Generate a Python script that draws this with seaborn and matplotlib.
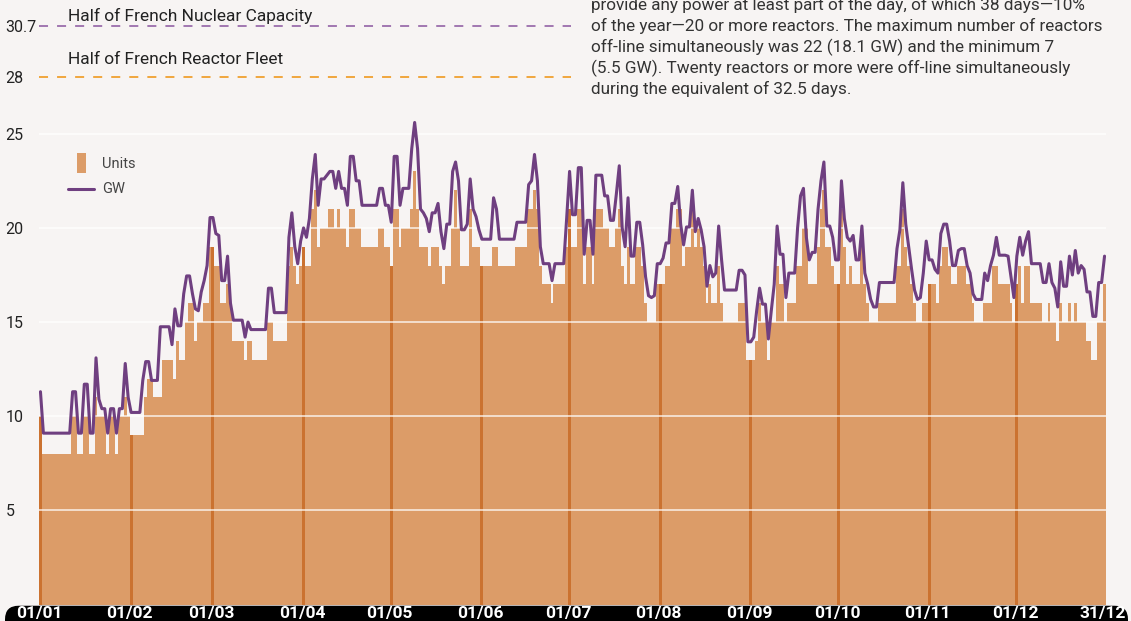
import numpy as np
import pandas as pd
import matplotlib
matplotlib.use("Agg")
import matplotlib.pyplot as plt
import seaborn as sns
from matplotlib.patches import FancyBboxPatch, Rectangle
from matplotlib.lines import Line2D

# ---------------- data ----------------
units_jan = [10, 8, 8, 8, 8, 8, 8, 8, 8, 8, 8, 10, 10, 8, 8, 10, 10, 8, 8, 11, 10, 10, 10, 8, 10, 10, 8, 10, 10, 11, 10]
units_feb = [9, 9, 9, 9, 9, 11, 12, 12, 11, 11, 11, 13, 13, 13, 13, 12, 14, 13, 13, 15, 16, 16, 14, 15, 15, 16, 16, 19]
units_mar = [19, 18, 18, 16, 16, 17, 16, 14, 14, 14, 14, 13, 14, 14, 13, 13, 13, 13, 13, 15, 15, 14, 14, 14, 14, 14, 18, 19, 18, 17, 18]
units_apr = [19, 18, 18, 21, 22, 19, 20, 20, 20, 21, 21, 20, 21, 20, 20, 19, 21, 21, 20, 20, 19, 19, 19, 19, 19, 19, 20, 20, 19, 19]
units_may = [18, 21, 21, 19, 20, 20, 20, 21, 23, 21, 19, 19, 19, 18, 19, 19, 19, 18, 17, 18, 18, 20, 22, 20, 18, 18, 18, 21, 19, 19, 19]
units_jun = [18, 18, 18, 18, 19, 19, 18, 18, 18, 18, 18, 18, 19, 19, 19, 19, 21, 21, 22, 21, 18, 17, 17, 17, 16, 17, 17, 17, 17, 19]
units_jul = [21, 19, 19, 21, 21, 17, 19, 19, 17, 21, 21, 21, 20, 20, 19, 19, 20, 21, 18, 17, 19, 17, 17, 19, 19, 18, 16, 15, 15, 15, 17]
units_aug = [17, 17, 18, 18, 20, 20, 21, 21, 18, 19, 19, 21, 19, 20, 19, 18, 16, 17, 16, 16, 18, 16, 15, 15, 15, 15, 15, 16, 16, 16, 13]
units_sep = [13, 13, 14, 16, 15, 15, 13, 15, 15, 18, 17, 17, 15, 16, 16, 16, 18, 18, 20, 20, 17, 17, 17, 19, 21, 22, 19, 19, 18, 17]
units_oct = [17, 21, 19, 17, 18, 17, 17, 17, 19, 17, 16, 15, 15, 15, 16, 16, 16, 16, 16, 16, 18, 18, 21, 19, 18, 17, 16, 15, 15, 16, 16]
units_nov = [17, 17, 17, 16, 18, 19, 19, 18, 17, 17, 18, 18, 18, 17, 17, 16, 15, 15, 15, 16, 16, 16, 18, 18, 17, 17, 17, 17, 16, 15]
units_dec = [17, 18, 16, 18, 18, 16, 16, 16, 16, 15, 15, 16, 15, 15, 14, 16, 15, 15, 16, 15, 16, 15, 15, 15, 14, 14, 13, 13, 15, 15, 17]

gw_jan = [11.3, 9.1, 9.1, 9.1, 9.1, 9.1, 9.1, 9.1, 9.1, 9.1, 9.1, 11.3, 11.3, 9.1, 9.1, 11.7, 11.7, 9.1, 9.1, 13.1, 10.9,
          10.4, 10.4, 9.1, 10.4, 10.4, 9.1, 10.4, 10.4, 12.8, 11.0]
gw_feb = [10.2, 10.2, 10.2, 10.2, 11.9, 12.9, 12.9, 11.9, 11.9, 11.9, 14.75, 14.75, 14.75, 14.75, 13.8, 15.7, 14.8, 14.8,
          16.5, 17.45, 17.45, 16.5, 15.7, 15.6, 16.6, 17.2, 18.0, 20.55]
gw_mar = [20.55, 19.7, 19.6, 17.2, 17.2, 18.5, 16.0, 15.1, 15.1, 15.1, 15.1, 14.2, 15.0, 14.6, 14.6, 14.6, 14.6, 14.6, 14.6,
          16.8, 16.8, 15.5, 15.5, 15.5, 15.5, 15.5, 19.5, 20.8, 19.0, 18.1, 19.3]
gw_apr = [20.0, 19.5, 20.5, 22.6, 23.9, 21.2, 22.6, 22.6, 22.8, 23.0, 23.0, 22.1, 23.0, 22.1, 22.1, 21.2, 23.8, 23.8, 22.5,
          22.5, 21.2, 21.2, 21.2, 21.2, 21.2, 21.2, 22.1, 22.1, 21.2, 21.2]
gw_may = [20.3, 23.8, 23.8, 21.2, 22.1, 22.1, 22.1, 24.2, 25.6, 24.2, 21.0, 20.8, 20.5, 19.8, 20.8, 20.8, 21.3, 19.8, 18.9,
          20.2, 20.2, 23.0, 23.5, 22.5, 19.9, 19.9, 20.2, 22.6, 21.0, 20.6, 19.9]
gw_jun = [19.4, 19.4, 19.4, 19.4, 21.6, 21.0, 19.4, 19.4, 19.4, 19.4, 19.4, 19.4, 20.3, 20.3, 20.3, 20.3, 22.3, 22.5, 23.9,
          22.5, 19.0, 18.1, 18.1, 18.1, 17.2, 18.1, 18.1, 18.1, 18.1, 20.5]
gw_jul = [23.0, 20.7, 20.7, 23.2, 23.2, 18.6, 20.4, 20.4, 18.6, 22.8, 22.8, 22.8, 21.7, 21.7, 20.4, 20.4, 21.8, 23.3, 20.0,
          19.0, 21.6, 18.5, 18.5, 20.3, 20.3, 19.1, 17.4, 16.4, 16.3, 16.4, 18.1]
gw_aug = [18.1, 18.4, 19.2, 19.2, 21.3, 21.3, 22.2, 20.2, 19.1, 20.05, 20.05, 22.0, 19.8, 20.5, 19.9, 19.0, 16.9, 18.0, 17.4,
          17.6, 20.1, 18.3, 16.7, 16.7, 16.7, 16.7, 16.7, 17.75, 17.75, 17.5, 13.95]
gw_sep = [13.95, 14.2, 15.6, 16.8, 15.95, 15.95, 14.1, 15.6, 17.0, 20.1, 18.6, 18.6, 16.3, 17.6, 17.6, 17.6, 20.0, 21.7,
          22.1, 19.5, 18.3, 18.7, 18.7, 21.0, 22.5, 23.5, 20.1, 20.1, 19.5, 18.3]
gw_oct = [18.3, 22.5, 20.5, 19.5, 19.3, 19.6, 18.3, 18.3, 20.1, 17.6, 17.0, 16.2, 15.8, 15.8, 17.1, 17.1, 17.1, 17.1, 17.1,
          17.1, 18.9, 19.9, 22.4, 20.2, 19.0, 17.8, 16.7, 16.2, 16.3, 17.6, 19.3]
gw_nov = [18.3, 18.3, 17.8, 17.6, 19.7, 20.2, 20.2, 19.3, 18.0, 18.0, 18.8, 18.9, 18.9, 18.0, 17.6, 16.5, 16.2, 16.2, 16.2,
          17.6, 17.2, 18.0, 18.55, 19.5, 18.55, 18.55, 18.55, 18.5, 17.4, 16.3]
gw_dec = [18.5, 19.5, 18.55, 19.3, 19.8, 18.1, 18.1, 18.1, 18.1, 17.1, 17.1, 18.1, 17.1, 16.8, 15.8, 18.2, 16.9, 16.9, 18.5,
          17.5, 18.8, 17.6, 18.0, 17.8, 16.6, 16.6, 15.3, 15.3, 17.1, 17.1, 18.5]

month_labels = ["01/01", "01/02", "01/03", "01/04", "01/05", "01/06", "01/07",
                "01/08", "01/09", "01/10", "01/11", "01/12", "31/12"]
ytick_values = [5, 10, 15, 20, 25, 28, 30.7]
ytick_labels = ["5", "10", "15", "20", "25", "28", "30.7"]
half_fleet = 28
half_capacity = 30.7
ref_labels = ["Half of French Reactor Fleet", "Half of French Nuclear Capacity"]
note_lines = [
    "provide any power at least part of the day, of which 38 days\u201410%",
    "of the year\u201420 or more reactors. The maximum number of reactors",
    "off-line simultaneously was 22 (18.1 GW) and the minimum 7",
    "(5.5 GW). Twenty reactors or more were off-line simultaneously",
    "during the equivalent of 32.5 days.",
]

units_months = [units_jan, units_feb, units_mar, units_apr, units_may, units_jun,
                units_jul, units_aug, units_sep, units_oct, units_nov, units_dec]
gw_months = [gw_jan, gw_feb, gw_mar, gw_apr, gw_may, gw_jun,
             gw_jul, gw_aug, gw_sep, gw_oct, gw_nov, gw_dec]

units = np.concatenate(units_months)
gw = np.concatenate(gw_months)
month_len = [len(m) for m in units_months]
month_start = np.concatenate([[0], np.cumsum(month_len)[:-1]])
n = len(units)
day = np.arange(n)
kind = np.where(np.isin(day, month_start), "first", "other")
df = pd.DataFrame({"x": day + 0.5, "units": units, "gw": gw, "kind": kind})

# ---------------- style ----------------
BG = "#f7f4f3"
BAR = "#dc9c68"
BAR_DARK = "#cb7230"
PURPLE = "#6f3f80"
sns.set_style("white")
plt.rcParams["font.family"] = ["Roboto", "DejaVu Sans"]

W, H = 1131, 621
fig = plt.figure(figsize=(W / 100, H / 100), dpi=100, facecolor=BG)
ax_left, ax_right, ax_bottom, ax_top = 39, 1106, 604.5, 0
ax = fig.add_axes([ax_left / W, (H - ax_bottom) / H, (ax_right - ax_left) / W, (ax_bottom - ax_top) / H])
ax.set_facecolor(BG)

sns.barplot(data=df, x="x", y="units", hue="kind", palette={"first": BAR_DARK, "other": BAR},
            native_scale=True, width=1.0, dodge=False, legend=False, ax=ax,
            linewidth=0, saturation=1)
for p in ax.patches:
    p.set_antialiased(False)
    p.set_edgecolor("none")

for v in [5, 10, 15, 20, 25]:
    ax.axhline(v, color="white", lw=1.1, alpha=0.85, zorder=2.5)

sns.lineplot(data=df, x="x", y="gw", color=PURPLE, lw=2.2, ax=ax, zorder=4)

# reference lines
ax.plot([0, 182], [half_capacity, half_capacity], color="#9b6dab", lw=1.3, ls=(0, (5, 5)), zorder=3)
ax.plot([0, 182], [half_fleet, half_fleet], color="#f0a030", lw=1.3, ls=(0, (5, 5)), zorder=3)
fig.text(68 / W, 1 - 16 / H, ref_labels[1], fontsize=12.5, color="#222222", va="center", ha="left")
fig.text(68 / W, 1 - 60 / H, ref_labels[0], fontsize=12.5, color="#222222", va="center", ha="left")

ax.set_xlim(0, n)
ax.set_ylim(0, ax_bottom / 18.83)
ax.set_xlabel("")
ax.set_ylabel("")
for s in ax.spines.values():
    s.set_visible(False)

ax.set_yticks(ytick_values)
ax.set_yticklabels(ytick_labels)
ax.tick_params(axis="y", length=0, pad=24, labelsize=11.5, labelcolor="#222222")
for t in ax.get_yticklabels():
    t.set_horizontalalignment("left")

xt = list(month_start) + [n - 1]
ax.set_xticks(xt)
ax.set_xticklabels(month_labels)
ax.tick_params(axis="x", length=0, pad=1.0, labelsize=12.5, labelcolor="white")
for t in ax.get_xticklabels():
    t.set_fontweight("bold")

# black band behind the date labels
band = FancyBboxPatch((5 / W, -0.05), 1123 / W, (H - ax_bottom) / H + 0.05 - 0.002,
                      boxstyle="round,pad=0,rounding_size=0.012", transform=fig.transFigure,
                      facecolor="black", edgecolor="none", zorder=-1, mutation_aspect=W / H)
fig.patches.append(band)

# legend (drawn by hand to match the tall swatch)
fig.patches.append(Rectangle((77 / W, 1 - 173 / H), 9 / W, 20 / H, transform=fig.transFigure,
                             facecolor=BAR, edgecolor="none"))
fig.lines.append(Line2D([68 / W, 94 / W], [1 - 189 / H, 1 - 189 / H], transform=fig.transFigure,
                        color=PURPLE, lw=2.2))
fig.text(102 / W, 1 - 164 / H, "Units", fontsize=10.5, color="#444444", va="center")
fig.text(102 / W, 1 - 189 / H, "GW", fontsize=10.5, color="#444444", va="center")

# explanatory note (top right, partially cut as in the reference)
for i, line in enumerate(note_lines):
    fig.text(591 / W, 1 - (10 + 21 * i) / H, line, fontsize=12.3, color="#333333", va="baseline", ha="left")

fig.savefig("out.png", dpi=100, facecolor=BG)
